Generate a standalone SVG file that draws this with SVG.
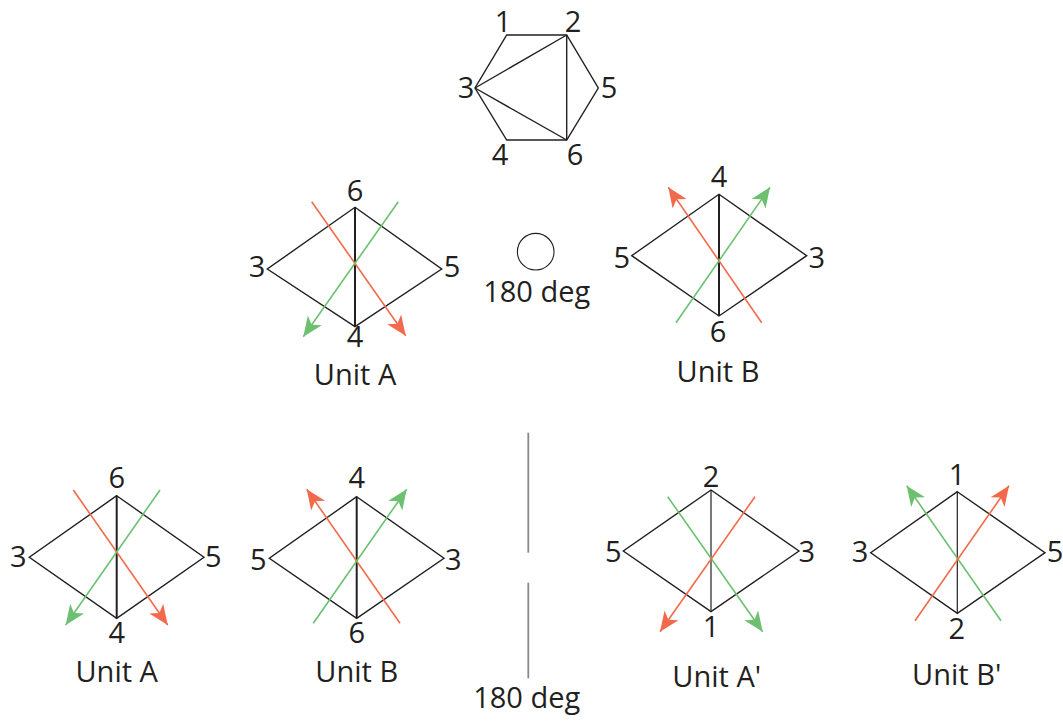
<svg xmlns="http://www.w3.org/2000/svg" width="1063" height="722" viewBox="0 0 1063 722">
<defs>
<style>
text{font-family:"Open Sans","Noto Sans",sans-serif;font-size:29px;fill:#231f20;text-anchor:middle}
.sh{fill:none;stroke:#231f20;stroke-width:1.4}
.v{stroke:#231f20;stroke-width:2}
.vt{stroke:#231f20;stroke-width:1.2}
.ra{stroke:#f26a4b;stroke-width:1.6;fill:none;marker-end:url(#mr)}
.ga{stroke:#6cc070;stroke-width:1.6;fill:none;marker-end:url(#mg)}
.div{stroke:#888;stroke-width:1.8}
</style>
<marker id="mr" markerUnits="userSpaceOnUse" orient="auto" markerWidth="30" markerHeight="30" refX="22" refY="10" viewBox="0 0 30 20"><path d="M22,10 L2,1.5 L7.5,10 L2,18.5 Z" fill="#f26a4b"/></marker>
<marker id="mg" markerUnits="userSpaceOnUse" orient="auto" markerWidth="30" markerHeight="30" refX="22" refY="10" viewBox="0 0 30 20"><path d="M22,10 L2,1.5 L7.5,10 L2,18.5 Z" fill="#6cc070"/></marker>
</defs>
<rect width="1063" height="722" fill="#fff"/>

<g id="hexagon">
<polygon class="sh" stroke-width="1.2" points="506.7,35 566.7,35 598.3,88 566.7,140 506.7,140 475,88"/>
<line class="sh" stroke-width="1.2" x1="475" y1="88" x2="566.7" y2="35"/>
<line class="sh" stroke-width="1.2" x1="475" y1="88" x2="566.7" y2="140"/>
<line class="sh" stroke-width="1.2" x1="566.7" y1="35" x2="566.7" y2="140"/>
<text x="503" y="32">1</text>
<text x="573" y="32">2</text>
<text x="466" y="98">3</text>
<text x="609" y="98">5</text>
<text x="500" y="165">4</text>
<text x="575" y="165">6</text>
</g>

<g id="unitA-top">
<polygon class="sh" points="355,207.3 441.7,269 355,326.7 267.3,269"/>
<line class="v" x1="355" y1="207.3" x2="355" y2="326.7"/>
<line class="ra" x1="311.7" y1="201.7" x2="405.7" y2="335.7"/>
<line class="ga" x1="398.3" y1="201.7" x2="303.3" y2="336.7"/>
<text x="355" y="201">6</text>
<text x="257" y="277">3</text>
<text x="452" y="277">5</text>
<text x="355" y="347">4</text>
<text x="355" y="385">Unit A</text>
</g>

<g id="rotation-top">
<circle cx="535.7" cy="251.7" r="18.3" fill="none" stroke="#231f20" stroke-width="1.1"/>
<text x="536.7" y="301.7">180 deg</text>
</g>

<g id="unitB-top">
<polygon class="sh" points="719,194.3 806.7,255.7 719,316 631.7,255.7"/>
<line class="v" x1="719" y1="194.3" x2="719" y2="316"/>
<line class="ra" x1="761.7" y1="322.7" x2="668.3" y2="187.3"/>
<line class="ga" x1="676" y1="322.7" x2="770" y2="187.3"/>
<text x="719" y="186.7">4</text>
<text x="621.7" y="268">5</text>
<text x="816.7" y="268">3</text>
<text x="718" y="341.7">6</text>
<text x="718" y="382">Unit B</text>
</g>

<g id="unitA-bottom">
<polygon class="sh" points="116.7,495.7 204,557.3 116.7,618.3 29.3,557.3"/>
<line class="v" x1="116.7" y1="495.7" x2="116.7" y2="618.3"/>
<line class="ra" x1="73.3" y1="490" x2="167.7" y2="625"/>
<line class="ga" x1="160" y1="490" x2="65.7" y2="625"/>
<text x="116.7" y="488.3">6</text>
<text x="18.3" y="566.7">3</text>
<text x="213.3" y="566.7">5</text>
<text x="116.7" y="643.3">4</text>
<text x="116.7" y="681.7">Unit A</text>
</g>

<g id="unitB-bottom">
<polygon class="sh" points="356.7,496.7 444,558.3 356.7,618.3 269.3,558.3"/>
<line class="v" x1="356.7" y1="496.7" x2="356.7" y2="618.3"/>
<line class="ra" x1="400" y1="623.3" x2="306.7" y2="489.3"/>
<line class="ga" x1="313.3" y1="623.3" x2="406.7" y2="489.3"/>
<text x="356.7" y="488.3">4</text>
<text x="258.3" y="570">5</text>
<text x="453.3" y="570">3</text>
<text x="356.7" y="643.3">6</text>
<text x="356.7" y="681.7">Unit B</text>
</g>

<g id="divider">
<line class="div" x1="528.3" y1="432.7" x2="528.3" y2="552.7"/>
<line class="div" x1="528.3" y1="582.7" x2="528.3" y2="678.3"/>
<text x="526.7" y="708.3">180 deg</text>
</g>

<g id="unitA-prime">
<polygon class="sh" points="711,490 799,551 711,611.7 623.3,551"/>
<line class="vt" x1="711" y1="490" x2="711" y2="611.7"/>
<line class="ga" x1="667.7" y1="496.7" x2="762.7" y2="631.7"/>
<line class="ra" x1="755" y1="496.7" x2="660" y2="631.7"/>
<text x="711" y="486.7">2</text>
<text x="613.3" y="561.7">5</text>
<text x="806.7" y="561.7">3</text>
<text x="711" y="636.7">1</text>
<text x="716.7" y="686.7">Unit A'</text>
</g>

<g id="unitB-prime">
<polygon class="sh" points="957.3,491.7 1045,552.7 957.3,613.3 870.7,552.7"/>
<line class="vt" x1="957.3" y1="491.7" x2="957.3" y2="613.3"/>
<line class="ga" x1="1001" y1="620.7" x2="906.7" y2="485.7"/>
<line class="ra" x1="915" y1="620.7" x2="1009" y2="485.7"/>
<text x="957" y="485">1</text>
<text x="860" y="561.7">3</text>
<text x="1055" y="561.7">5</text>
<text x="956.7" y="639.3">2</text>
<text x="956.7" y="685">Unit B'</text>
</g>
</svg>
